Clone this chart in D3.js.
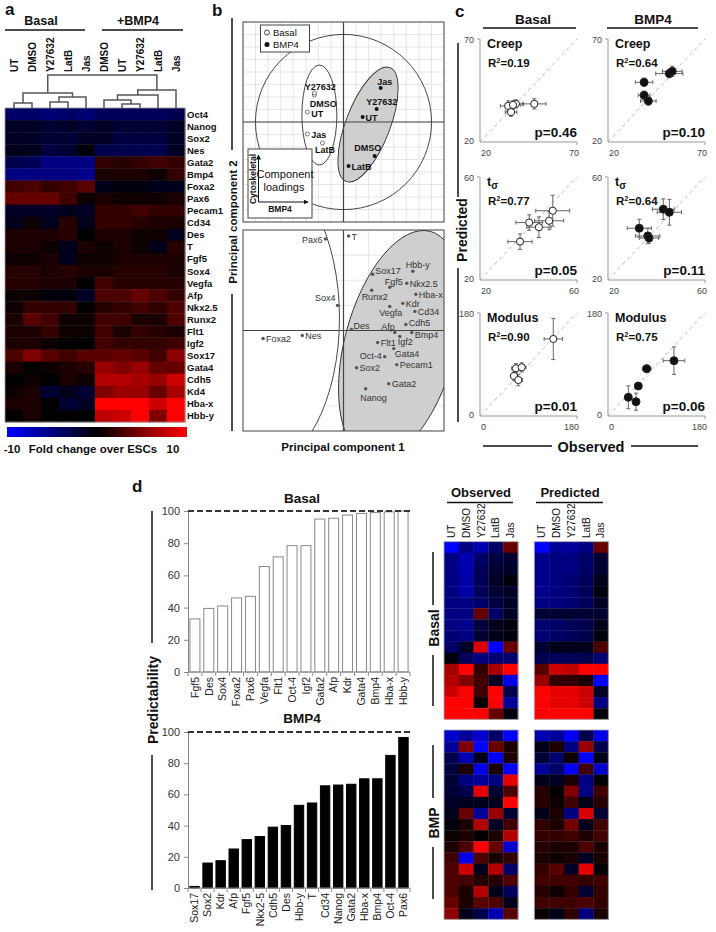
<!DOCTYPE html>
<html>
<head>
<meta charset="utf-8">
<script src="https://cdn.jsdelivr.net/npm/d3@7"></script>
<style>
  body { margin: 0; background: #fff; }
  svg { display: block; font-family: "Liberation Sans", Arial, sans-serif; }
</style>
</head>
<body>
<svg width="716" height="932"></svg>
<script>
// ---------------- data ----------------
// panel a : heatmap (fold change over ESCs)
const aCols = ["UT", "DMSO", "Y27632", "LatB", "Jas", "DMSO", "UT", "Y27632", "LatB", "Jas"];
const aGenes = ["Oct4", "Nanog", "Sox2", "Nes", "Gata2", "Bmp4", "Foxa2", "Pax6", "Pecam1", "Cd34", "Des", "T", "Fgf5",
  "Sox4", "Vegfa", "Afp", "Nkx2.5", "Runx2", "Flt1", "Igf2", "Sox17", "Gata4", "Cdh5", "Kd4", "Hba-x", "Hbb-y"];
const aValues = [
  [-4, -4, -4.5, -4, -4.5, -3.5, -3.5, -3.5, -3.5, -3],
  [-1.5, -1.5, -2, -1.5, -2, -1.5, -2, -2, -2, -1.5],
  [-1.5, -1.5, -2, -2, -1.5, -1.5, -2.5, -2.5, -2.5, -1.5],
  [-1, -1, -2.5, -2, -0.5, -3, -3, -3, -3, -1.5],
  [-3, -3.5, -5, -5, -5, 2, 1.5, 2, 2.5, 2],
  [-5, -5, -5, -5, -5.5, 1, 1, 1, 0.5, 2],
  [2.5, 3, 2, 2.5, 3.5, -1, -0.5, -0.5, -1, -1],
  [4, 4, 4, 2.5, 0.5, 1, 0.5, 0.5, 0.5, 1],
  [-1.5, -1.5, -1.5, -1, -1.5, 2, 2, 2.5, 2, 2],
  [-1, 0.5, -1, 1.5, -1, 2, 2, 1.5, 1, 1],
  [1, 1, 1, 1.5, 0, 1, 1, 0.5, 0.5, -1],
  [1, 1, 0.5, -1, 1, 0.5, 1, 0.5, -1, 1.5],
  [0.5, 0.5, 1, -1, 0.5, 0.5, 1, 1, 1, 1],
  [1.5, 1.5, 1, 1.5, 1, 1, 1.5, 1.5, 1.5, 1],
  [1.5, 1.5, 1, 1, 0, 2.5, 1.5, 1.5, 1.5, 1.5],
  [0.5, 0.5, -0.5, -0.5, -1.5, 3, 3, 4, 3, 2],
  [0.5, 2, 2, 2, 0, 1.5, 2, 2.5, 2, 3],
  [1, 3.5, 2.5, 0.5, 0.5, 2.5, 2.5, 1, 1, 3],
  [1, 1, 2, 0.5, 0.5, 2.5, 1, 2, 1.5, 1],
  [1, 1, 0.5, 0, 0, 2.5, 2, 2, 2, 2.5],
  [3, 5, 3.5, 2.5, 3.5, 3.5, 4, 3.5, 2.5, 5.5],
  [1, 0, 0.5, 1, 1.5, 6, 5, 6, 4, 4],
  [0, 0.5, 0, 1, 0.5, 7, 7, 6.5, 6, 8],
  [0.5, 1, -2, -1, -2, 5, 6, 6, 4, 6.5],
  [1, 1, 0, -2, -1.5, 10, 10, 10, 8, 10],
  [0, 1, 0, 0, 0, 7.5, 8, 10, 5, 10]
];
// dendrogram merges: [node, node, distance]; leaves are 0..9, merges numbered from 10
const aMerges = [[0, 1, 0.5], [2, 3, 0.6], [11, 4, 1.1], [10, 12, 1.5], [6, 7, 0.4], [5, 14, 0.8], [15, 8, 1.3], [16, 9, 1.8], [13, 17, 3.3]];

// panel b : PCA scores
const scoreNames = ["UT", "DMSO", "Y27632", "LatB", "Jas"];
const basalPC1 = [-0.36, -0.29, -0.29, -0.21, -0.36];
const basalPC2 = [0.10, 0.27, 0.29, -0.21, -0.12];
const bmpPC1 = [0.19, 0.31, 0.33, 0.05, 0.37];
const bmpPC2 = [0.05, -0.34, 0.13, -0.44, 0.34];
// panel b : PCA loadings
const loadNames = ["T", "Pax6", "Sox4", "Foxa2", "Nes", "Des", "Sox17", "Hbb-y", "Fgf5", "Nkx2.5", "Runx2", "Hba-x", "Kdr", "Vegfa",
  "Cd34", "Afp", "Cdh5", "Bmp4", "Flt1", "Igf2", "Oct-4", "Gata4", "Sox2", "Pecam1", "Gata2", "Nanog"];
const loadPC1 = [0.05, -0.18, -0.06, -0.80, -0.41, 0.08, 0.29, 0.69, 0.46, 0.63, 0.28, 0.72, 0.59, 0.46,
  0.71, 0.51, 0.62, 0.68, 0.34, 0.56, 0.41, 0.50, 0.13, 0.53, 0.45, 0.22];
const loadPC2 = [0.94, 0.91, 0.25, -0.08, -0.05, 0.01, 0.56, 0.59, 0.43, 0.47, 0.40, 0.36, 0.27, 0.24,
  0.19, -0.02, 0.06, -0.02, -0.12, -0.06, -0.26, -0.18, -0.37, -0.34, -0.53, -0.58];

// panel c : [observed, predicted, observed err, predicted err]
const cRowNames = ["Creep", "t", "Modulus"];
const cDomains = [[20, 70], [20, 60], [0, 180]];
const cR2 = [["0.19", "0.64"], ["0.77", "0.64"], ["0.90", "0.75"]];
const cP = [["0.46", "0.10"], ["0.05", "0.11"], ["0.01", "0.06"]];
const creepBasal = [[34.5, 37.5, 4, 2.5], [38.5, 38.5, 4, 2], [36, 34.5, 3, 2], [48, 38.5, 6, 2.5], [37, 38, 4, 2]];
const creepBmp = [[38.6, 49, 4.5, 2], [38.6, 42.7, 3, 2], [40.8, 39.9, 4, 2], [51.6, 53.2, 7, 2], [53.1, 54.3, 5, 2.5]];
const tauBasal = [[36.5, 34.9, 5, 3], [40.3, 42.3, 5.5, 3], [44.3, 40.5, 5, 4], [48.5, 43, 6, 3.5], [50, 46.9, 7, 6]];
const tauBmp = [[32.9, 40.1, 5, 3.5], [36.4, 37.1, 5, 3], [36.9, 36.3, 4, 2], [42.8, 47.5, 4.5, 4], [45.3, 46.3, 5, 5]];
const modBasal = [[136, 134.6, 17, 36], [66.8, 83.4, 8, 8], [77.4, 85.1, 8, 8], [63.1, 69.9, 6, 7], [71.1, 62.9, 8, 10]];
const modBmp = [[37.7, 32.7, 6, 20], [52, 25, 6, 15], [56.2, 52.4, 6, 5], [71.8, 82.7, 8, 6], [122.4, 96.7, 20, 24]];

// panel d : predictability bars
const basalGenes = ["Fgf5", "Des", "Sox4", "Foxa2", "Pax6", "Vegfa", "Flt1", "Oct-4", "Igf2", "Gata2", "Afp", "Kdr", "Gata4", "Bmp4", "Hba-x", "Hbb-y"];
const basalPred = [33, 39.5, 41, 46, 47, 65.5, 71.5, 78.5, 78.5, 95, 95.5, 97.5, 98.5, 99, 99.5, 100];
const bmpGenes = ["Sox17", "Sox2", "Kdr", "Afp", "Fgf5", "Nkx2-5", "Cdh5", "Des", "Hbb-y", "T", "Cd34", "Nanog", "Gata2", "Hba-x", "Bmp4", "Oct-4", "Pax6"];
const bmpPred = [1, 16, 17.5, 25, 31, 33, 39, 40, 53, 54.5, 65.5, 66, 66.5, 70, 70, 85, 96.5];
const yTicks = [0, 20, 40, 60, 80, 100];

// panel d : observed / predicted heatmaps
const dCols = ["UT", "DMSO", "Y27632", "LatB", "Jas"];
const obsBasal = [
  [-10, -5, -7, -4, 4], [-5, -7, -4, -2.5, -2], [-5, -7, -3.5, -2, -1.5], [-5, -6.5, -3.5, -1.5, -0.5],
  [-5, -6.5, -3.5, -2, -1.5], [-5, -5, -4, -2.5, -1.5], [-5, -5, 4, -4, -1.5], [-5, -5.5, -2.5, -1, -0.5],
  [-4.5, -5, -2, -1, -0.5], [-4, -1.5, 8.5, -10, 4], [-0.5, -3.5, -5, -4.5, -4.5], [6.5, 10, 2, 6.5, 10],
  [7, 5, 2.5, -1.5, -9], [8, 10, 2.5, 10, -3], [10, 10, 0.5, 10, -6], [10, 10, 10, 4, -0.5]];
const predBasal = [
  [-10, -6, -6, -5, 4], [-5.5, -5, -5, -4, -2], [-5.5, -5, -5, -4, -2], [-5.5, -5, -4.5, -3.5, -1],
  [-5.5, -5, -4.5, -3.5, -0.5], [-5, -5, -4.5, -3.5, -1.5], [-2, -2, -2, -2, -2], [-4.5, -4, -3.5, -3, -1],
  [-4.5, -4, -3.5, -3, -0.5], [-2, -1, -1, -1, 3], [-3, -3.5, -3.5, -3, -4.5], [3.5, 8, 7.5, 10, 10],
  [6, 2, 2, 1, -10], [10, 9, 9, 8, -1.5], [10, 9, 9, 8, -5], [10, 10, 10, 10, -0.5]];
const obsBmp = [
  [-8, -6, -8, -4, -10], [-6, 5, -10, 4, 1], [-3, -7, -1, -10, 1], [-2.5, 1, -9, 1, -10], [-2, -5, -6, -5, 9],
  [-2, -3, 9, -2, 3], [-1.5, -1, -1, -1, 10], [-1, 4, -6, 6, -2], [-0.5, 1, 7, -1.5, 2.5], [0.5, 1, 0, 1, 7],
  [1, 3, 10, 4, -8], [2.5, -9, 3, 1, 2], [3, 8, -1, 7, -4], [3, 2.5, 1.5, 1.5, 3], [3, 1, 7, -1, -3.5],
  [4, 1, 3.5, 3, -1], [5.5, -1, -3, -7, 3.5]];
const predBmp = [
  [-7, -6, -9.5, -3, -9], [-1, 1, -5, 6, -3], [-2, -4.5, 0.5, -10, -1], [-6, -4, -9.5, 2.5, -8], [-1, -1.5, 1, -5, 0],
  [1.5, 0, 5, -5, 2.5], [1.5, 0.5, 2.5, -1, 1.5], [-1, 1, -5, 8.5, -2], [2, 1, 4.5, -1, 2.5], [2, 2, 2.5, 1, 2.5],
  [1.5, 1, 1, 3, 1], [1, 0.5, 1, -1.5, 1], [2, 3.5, -1.5, 9, 0], [2.5, 2.5, 2.5, 2, 2.5], [1.5, 0.5, 2, -2, 2],
  [2.5, 2.5, 2.5, 3, 2], [0.5, -1, 2, -5, 1]];

// ---------------- drawing ----------------
const svg = d3.select("svg");
const heat = d3.scaleLinear().domain([-10, 0, 10]).range(["#0000ff", "#000000", "#ff0000"]).clamp(true);

function text(g, x, y, s, size, opt = {}) {
  const t = g.append("text").attr("x", x).attr("y", y).text(s)
    .attr("font-size", size)
    .attr("font-weight", opt.bold ? "bold" : "normal")
    .attr("text-anchor", opt.anchor || "start")
    .attr("fill", opt.fill || "#111");
  if (opt.rot) t.attr("transform", `rotate(${opt.rot},${x},${y})`);
  if (opt.dy) t.attr("dy", opt.dy);
  return t;
}
function line(g, x1, y1, x2, y2, stroke, w) {
  return g.append("line").attr("x1", x1).attr("y1", y1).attr("x2", x2).attr("y2", y2)
    .attr("stroke", stroke || "#111").attr("stroke-width", w || 1);
}

// ===== panel a =====
const ga = svg.append("g");
text(ga, 5, 15, "a", 17, { bold: true });
text(ga, 41, 25, "Basal", 12.5, { bold: true, anchor: "middle" });
text(ga, 138, 25, "+BMP4", 12.5, { bold: true, anchor: "middle" });
line(ga, 5, 30, 85, 30, "#111", 1.5);
line(ga, 102, 30, 183, 30, "#111", 1.5);

const aX = d3.scaleBand().domain(d3.range(aCols.length)).range([5, 185]);
const aY = d3.scaleBand().domain(aGenes).range([108, 422]);
aCols.forEach((c, j) => text(ga, aX(j) + aX.bandwidth() / 2 + 3.5, 72, c, 10, { bold: true, rot: -90 }));

const aCells = aGenes.flatMap((g, i) => aValues[i].map((v, j) => ({ g, j, v })));
ga.append("g").selectAll("rect").data(aCells).join("rect")
  .attr("x", d => aX(d.j)).attr("y", d => aY(d.g))
  .attr("width", aX.bandwidth() + 0.4).attr("height", aY.bandwidth() + 0.4)
  .attr("fill", d => heat(d.v));
ga.append("rect").attr("x", 5).attr("y", 108).attr("width", 180).attr("height", 314)
  .attr("fill", "none").attr("stroke", "#999").attr("stroke-width", 0.8);
aGenes.forEach(g => text(ga, 187, aY(g) + aY.bandwidth() / 2 + 3.5, g, 9.5, { bold: true }));

// dendrogram
const dH = d3.scaleLinear().domain([0, 3.3]).range([108, 75]);
const dNodes = aCols.map((c, j) => ({ x: aX(j) + aX.bandwidth() / 2, y: dH(0) }));
aMerges.forEach(([l, r, h]) => {
  const a = dNodes[l], b = dNodes[r], y = dH(h);
  ga.append("path").attr("d", `M${a.x},${a.y}V${y}H${b.x}V${b.y}`)
    .attr("fill", "none").attr("stroke", "#555").attr("stroke-width", 1.5);
  dNodes.push({ x: (a.x + b.x) / 2, y });
});

// colour bar
const defs = svg.append("defs");
const grad = defs.append("linearGradient").attr("id", "cbar");
[["0%", "#0000ff"], ["50%", "#000000"], ["100%", "#ff0000"]].forEach(([o, c]) =>
  grad.append("stop").attr("offset", o).attr("stop-color", c));
ga.append("rect").attr("x", 7).attr("y", 427).attr("width", 180).attr("height", 10).attr("fill", "url(#cbar)");
text(ga, 12, 453, "-10", 11.5, { bold: true, anchor: "middle" });
text(ga, 93, 453, "Fold change over ESCs", 11.5, { bold: true, anchor: "middle" });
text(ga, 173, 453, "10", 11.5, { bold: true, anchor: "middle" });

// ===== panel b =====
const gb = svg.append("g");
text(gb, 212, 16, "b", 17, { bold: true });
const bx = d3.scaleLinear().domain([-1, 1]).range([243, 444]);
const byTop = d3.scaleLinear().domain([-1, 1]).range([222, 22]);
const byBot = d3.scaleLinear().domain([-1, 1]).range([431, 230]);

function pcaBox(id, by, step) {
  defs.append("clipPath").attr("id", id).append("rect")
    .attr("x", bx(-1)).attr("y", by(1)).attr("width", bx(1) - bx(-1)).attr("height", by(-1) - by(1));
  const g = gb.append("g");
  const inner = g.append("g").attr("clip-path", `url(#${id})`);
  d3.range(-1, 1.0001, step).forEach(v => {
    line(inner, bx(v), by(-1), bx(v), by(1), "#e0e0e0", 0.8);
    line(inner, bx(-1), by(v), bx(1), by(v), "#e0e0e0", 0.8);
  });
  return { g, inner };
}
function ellipse(g, by, cx, cy, rx, ry, ang, fill) {
  g.append("ellipse")
    .attr("transform", `translate(${bx(cx)},${by(cy)}) rotate(${ang})`)
    .attr("rx", bx(rx) - bx(0)).attr("ry", by(0) - by(ry))
    .attr("fill", fill).attr("stroke", "#333").attr("stroke-width", 0.9);
}

// top: scores
const topBox = pcaBox("clipTop", byTop, 0.125);
ellipse(topBox.inner, byTop, 0, 0, 0.876, 0.876, 0, "none");
ellipse(topBox.inner, byTop, -0.24, 0.07, 0.174, 0.5, 0, "#fff");
ellipse(topBox.inner, byTop, 0.244, -0.025, 0.22, 0.61, 21, "#cfcfcf");
line(topBox.inner, bx(0), byTop(-1), bx(0), byTop(1), "#444", 1.2);
line(topBox.inner, bx(-1), byTop(0), bx(1), byTop(0), "#444", 1.2);

const scorePlace = {
  basal: { UT: [4, 5, "start"], DMSO: [9, 11.5, "middle"], Y27632: [6, -3, "middle"], LatB: [2.5, 10, "middle"], Jas: [4, 3.5, "start"] },
  bmp: { UT: [3, 3.5, "start"], DMSO: [-7, -5, "middle"], Y27632: [5, -4.5, "middle"], LatB: [3, 3.5, "start"], Jas: [4, -3, "middle"] }
};
scoreNames.forEach((n, i) => {
  const x = bx(basalPC1[i]), y = byTop(basalPC2[i]);
  topBox.inner.append("circle").attr("cx", x).attr("cy", y).attr("r", 2).attr("fill", "#fff").attr("stroke", "#555").attr("stroke-width", 0.8);
  const p = scorePlace.basal[n];
  text(topBox.inner, x + p[0], y + p[1], n, 9, { bold: true, anchor: p[2] });
});
scoreNames.forEach((n, i) => {
  const x = bx(bmpPC1[i]), y = byTop(bmpPC2[i]);
  topBox.inner.append("circle").attr("cx", x).attr("cy", y).attr("r", 2).attr("fill", "#111");
  const p = scorePlace.bmp[n];
  text(topBox.inner, x + p[0], y + p[1], n, 9, { bold: true, anchor: p[2] });
});
topBox.g.append("rect").attr("x", bx(-1)).attr("y", byTop(1)).attr("width", bx(1) - bx(-1)).attr("height", byTop(-1) - byTop(1))
  .attr("fill", "none").attr("stroke", "#444");

// legend
topBox.g.append("rect").attr("x", 260.5).attr("y", 25).attr("width", 49).attr("height", 27).attr("fill", "#fff").attr("stroke", "#444");
topBox.g.append("circle").attr("cx", 267).attr("cy", 32.5).attr("r", 2.5).attr("fill", "#fff").attr("stroke", "#444");
topBox.g.append("circle").attr("cx", 267).attr("cy", 44.5).attr("r", 2.5).attr("fill", "#111");
text(topBox.g, 273, 36, "Basal", 9.5);
text(topBox.g, 273, 48, "BMP4", 9.5);

// component loadings inset
topBox.g.append("rect").attr("x", 248).attr("y", 149).attr("width", 64).attr("height", 69).attr("fill", "#fff").attr("stroke", "#444");
defs.append("marker").attr("id", "arr").attr("viewBox", "0 0 10 10").attr("refX", 9).attr("refY", 5)
  .attr("markerWidth", 5).attr("markerHeight", 5).attr("orient", "auto")
  .append("path").attr("d", "M0,0L10,5L0,10z").attr("fill", "#111");
line(topBox.g, 258.5, 202, 258.5, 155, "#111", 1).attr("marker-end", "url(#arr)");
line(topBox.g, 258.5, 202, 308, 202, "#111", 1).attr("marker-end", "url(#arr)");
text(topBox.g, 256, 179, "Cytoskeletal", 8.5, { bold: true, anchor: "middle", rot: -90 });
text(topBox.g, 280, 212, "BMP4", 8.5, { bold: true, anchor: "middle" });
text(topBox.g, 285, 178, "Component", 11, { anchor: "middle" });
text(topBox.g, 284, 191, "loadings", 11, { anchor: "middle" });

// bottom: loadings
const botBox = pcaBox("clipBot", byBot, 0.25);
ellipse(botBox.inner, byBot, -0.83, 0.124, 0.79, 1.49, 0, "#fff");
ellipse(botBox.inner, byBot, 0.562, -0.144, 0.55, 1.17, 15, "#cfcfcf");
line(botBox.inner, bx(0), byBot(-1), bx(0), byBot(1), "#444", 1.2);
line(botBox.inner, bx(-1), byBot(0), bx(1), byBot(0), "#444", 1.2);
const loadPlace = {
  T: [3, 3.5, "start"], Pax6: [-3, 3.5, "end"], Sox4: [-2, -4, "end"], Foxa2: [3, 3.5, "start"], Nes: [3, 3, "start"],
  Des: [2, 0, "start"], Sox17: [2.5, 0, "start"], "Hbb-y": [5, -3.5, "middle"], Fgf5: [4, -2.5, "middle"],
  "Nkx2.5": [3, 3.5, "start"], Runx2: [3, 9.5, "middle"], "Hba-x": [3, 3.5, "start"], Kdr: [3, 3.5, "start"],
  Vegfa: [1, 10, "middle"], Cd34: [3, 3.5, "start"], Afp: [0, -3, "end"], Cdh5: [3, 1.5, "start"], Bmp4: [3, 5, "start"],
  Flt1: [3, 3.5, "start"], Igf2: [-2, 8, "start"], "Oct-4": [-3, 2, "end"], Gata4: [1, 8, "start"], Sox2: [3, 3.5, "start"],
  Pecam1: [3, 3.5, "start"], Gata2: [3, 3.5, "start"], Nanog: [8, 12, "middle"]
};
loadNames.forEach((n, i) => {
  const x = bx(loadPC1[i]), y = byBot(loadPC2[i]);
  botBox.inner.append("circle").attr("cx", x).attr("cy", y).attr("r", 1.7).attr("fill", "#555");
  const p = loadPlace[n];
  text(botBox.inner, x + p[0], y + p[1], n, 9, { anchor: p[2], fill: "#333" });
});
botBox.g.append("rect").attr("x", bx(-1)).attr("y", byBot(1)).attr("width", bx(1) - bx(-1)).attr("height", byBot(-1) - byBot(1))
  .attr("fill", "none").attr("stroke", "#444");

text(gb, 343, 451, "Principal component 1", 11.5, { bold: true, anchor: "middle" });
text(gb, 233, 222, "Principal component 2", 11.5, { bold: true, anchor: "middle", rot: -90, dy: "0.35em" });
line(gb, 232, 18, 232, 150, "#111", 1.5);
line(gb, 232, 294, 232, 431, "#111", 1.5);

// ===== panel c =====
const gc = svg.append("g");
text(gc, 455, 17, "c", 17, { bold: true });
text(gc, 533, 24, "Basal", 13.5, { bold: true, anchor: "middle" });
text(gc, 653, 24, "BMP4", 13.5, { bold: true, anchor: "middle" });
line(gc, 483, 28, 576, 28, "#111", 1.5);
line(gc, 607, 28, 698, 28, "#111", 1.5);

const cSets = [[creepBasal, creepBmp], [tauBasal, tauBmp], [modBasal, modBmp]];
const cLeft = [480, 608];
const cTop = [39, 177, 313];
const cW = 97, cH = 103;
cSets.forEach((pair, r) => {
  pair.forEach((pts, k) => {
    const dom = cDomains[r];
    const x = d3.scaleLinear().domain(dom).range([cLeft[k], cLeft[k] + cW]);
    const y = d3.scaleLinear().domain(dom).range([cTop[r] + cH, cTop[r]]);
    const g = gc.append("g");
    line(g, x(dom[0]), y(dom[0]), x(dom[1]), y(dom[1]), "#bbb", 1).attr("stroke-dasharray", "4,3");
    line(g, x(dom[0]), y(dom[0]), x(dom[1]), y(dom[0]), "#999", 1);
    line(g, x(dom[0]), y(dom[0]), x(dom[0]), y(dom[1]), "#999", 1);
    line(g, x(dom[0]) - 3, y(dom[1]), x(dom[0]), y(dom[1]), "#999", 1);
    line(g, x(dom[1]), y(dom[0]), x(dom[1]), y(dom[0]) + 3, "#999", 1);
    text(g, x(dom[0]) - 6, y(dom[1]) + 4, dom[1], 9, { anchor: "end", fill: "#444" });
    text(g, x(dom[0]) - 6, y(dom[0]) + 2, dom[0], 9, { anchor: "end", fill: "#444" });
    text(g, x(dom[0]) + 1, y(dom[0]) + 14, dom[0], 9, { fill: "#444" });
    text(g, x(dom[1]) + 2, y(dom[0]) + 14, dom[1], 9, { anchor: "end", fill: "#444" });

    const t = text(g, x(dom[0]) + 7, cTop[r] + 9, cRowNames[r], 12.5, { bold: true });
    if (r === 1) t.append("tspan").attr("font-size", 10).attr("dy", 3).text("σ");
    const r2 = text(g, x(dom[0]) + 8, cTop[r] + 28, "R", 11.5, { bold: true });
    r2.append("tspan").attr("font-size", 7.5).attr("dy", -4.5).text("2");
    r2.append("tspan").attr("dy", 4.5).text("=" + cR2[r][k]);
    text(g, x(dom[1]), cTop[r] + 98, "p=" + cP[r][k], 13.5, { bold: true, anchor: "end" });

    const eb = g.append("g");
    pts.forEach(([o, p, oe, pe]) => {
      line(eb, x(o - oe), y(p), x(o + oe), y(p), "#666", 1);
      line(eb, x(o - oe), y(p) - 2, x(o - oe), y(p) + 2, "#666", 1);
      line(eb, x(o + oe), y(p) - 2, x(o + oe), y(p) + 2, "#666", 1);
      line(eb, x(o), y(p - pe), x(o), y(p + pe), "#666", 1);
      line(eb, x(o) - 2, y(p - pe), x(o) + 2, y(p - pe), "#666", 1);
      line(eb, x(o) - 2, y(p + pe), x(o) + 2, y(p + pe), "#666", 1);
    });
    g.selectAll("circle.pt").data(pts).join("circle").attr("class", "pt")
      .attr("cx", d => x(d[0])).attr("cy", d => y(d[1])).attr("r", k === 0 ? 3.6 : 4)
      .attr("fill", k === 0 ? "#fff" : "#111").attr("stroke", "#222").attr("stroke-width", 1);
  });
});
text(gc, 462, 230, "Predicted", 14, { bold: true, anchor: "middle", rot: -90, dy: "0.35em" });
line(gc, 458, 43, 458, 197, "#111", 1.5);
line(gc, 458, 268, 458, 422, "#111", 1.5);
text(gc, 591, 452, "Observed", 14.5, { bold: true, anchor: "middle" });
line(gc, 483, 446, 552, 446, "#111", 1.5);
line(gc, 631, 446, 698, 446, "#111", 1.5);

// ===== panel d : bars =====
const gd = svg.append("g");
text(gd, 132, 492, "d", 17, { bold: true });
text(gd, 302, 503, "Basal", 13.5, { bold: true, anchor: "middle" });
text(gd, 302, 723, "BMP4", 13.5, { bold: true, anchor: "middle" });
text(gd, 153, 700, "Predictability", 14, { bold: true, anchor: "middle", rot: -90, dy: "0.35em" });
line(gd, 152, 511, 152, 643, "#111", 1.5);
line(gd, 152, 755, 152, 890, "#111", 1.5);

function bars(genes, vals, y0, y100, fill, stroke) {
  const g = gd.append("g");
  const x = d3.scaleBand().domain(genes).range([188, 410]).paddingInner(0.28).paddingOuter(0.14);
  const y = d3.scaleLinear().domain([0, 100]).range([y0, y100]);
  g.selectAll("rect").data(vals).join("rect")
    .attr("x", (d, i) => x(genes[i])).attr("width", x.bandwidth())
    .attr("y", d => y(d)).attr("height", d => y(0) - y(d))
    .attr("fill", fill).attr("stroke", stroke).attr("stroke-width", 1);
  const ya = g.append("g").attr("transform", "translate(188,0)")
    .call(d3.axisLeft(y).tickValues(yTicks).tickSize(4).tickPadding(4));
  ya.select(".domain").attr("stroke", "#888");
  ya.selectAll(".tick line").attr("stroke", "#888");
  ya.selectAll("text").attr("font-size", 11).attr("fill", "#333").attr("font-family", null);
  const xa = g.append("g").attr("transform", `translate(0,${y0})`)
    .call(d3.axisBottom(x).tickSize(0).tickPadding(0));
  xa.select(".domain").attr("stroke", "#888").attr("d", "M188,0H410");
  xa.selectAll("text").attr("transform", "rotate(-90)").attr("text-anchor", "end")
    .attr("x", -5).attr("y", 0).attr("dy", "0.35em").attr("font-size", 10.5).attr("fill", "#222").attr("font-family", null);
  genes.forEach((gn, i) => {
    const bx0 = x(gn) - x.step() * x.paddingInner() / 2;
    line(g, bx0, y0, bx0, y0 + 4, "#888", 1);
  });
  line(g, 410, y0, 410, y0 + 4, "#888", 1);
  line(g, 188, y(100), 410, y(100), "#333", 2).attr("stroke-dasharray", "6,3");
}
bars(basalGenes, basalPred, 672, 511, "#fff", "#888");
bars(bmpGenes, bmpPred, 888, 732, "#000", "#000");

// ===== panel d : heatmaps =====
const gh = svg.append("g");
function heatBlock(vals, x0, y0, y1) {
  const x = d3.scaleBand().domain(d3.range(dCols.length)).range([x0, x0 + 74]);
  const y = d3.scaleBand().domain(d3.range(vals.length)).range([y0, y1]);
  const cells = vals.flatMap((row, i) => row.map((v, j) => ({ i, j, v })));
  gh.append("g").selectAll("rect").data(cells).join("rect")
    .attr("x", d => x(d.j)).attr("y", d => y(d.i))
    .attr("width", x.bandwidth() + 0.3).attr("height", y.bandwidth() + 0.3)
    .attr("fill", d => heat(d.v));
  gh.append("rect").attr("x", x0).attr("y", y0).attr("width", 74).attr("height", y1 - y0)
    .attr("fill", "none").attr("stroke", "#aaa").attr("stroke-width", 0.8);
  return x;
}
[[444, obsBasal, obsBmp], [534.3, predBasal, predBmp]].forEach(([x0, vb, vm]) => {
  const x = heatBlock(vb, x0, 541.7, 719.3);
  heatBlock(vm, x0, 730, 919.3);
  dCols.forEach((c, j) => text(gh, x(j) + x.bandwidth() / 2 + 3.5, 538, c, 10, { rot: -90, fill: "#111" }));
});
text(gh, 481, 497, "Observed", 13, { bold: true, anchor: "middle" });
line(gh, 447, 502.5, 513, 502.5, "#111", 1.5);
text(gh, 570, 497, "Predicted", 13, { bold: true, anchor: "middle" });
line(gh, 536, 502.5, 603, 502.5, "#111", 1.5);
text(gh, 434, 628, "Basal", 14, { bold: true, anchor: "middle", rot: -90, dy: "0.35em" });
line(gh, 433, 552, 433, 605, "#111", 1.5);
line(gh, 433, 655, 433, 706, "#111", 1.5);
text(gh, 434, 823, "BMP", 14, { bold: true, anchor: "middle", rot: -90, dy: "0.35em" });
line(gh, 433, 745, 433, 798, "#111", 1.5);
line(gh, 433, 847, 433, 899, "#111", 1.5);
</script>
</body>
</html>
